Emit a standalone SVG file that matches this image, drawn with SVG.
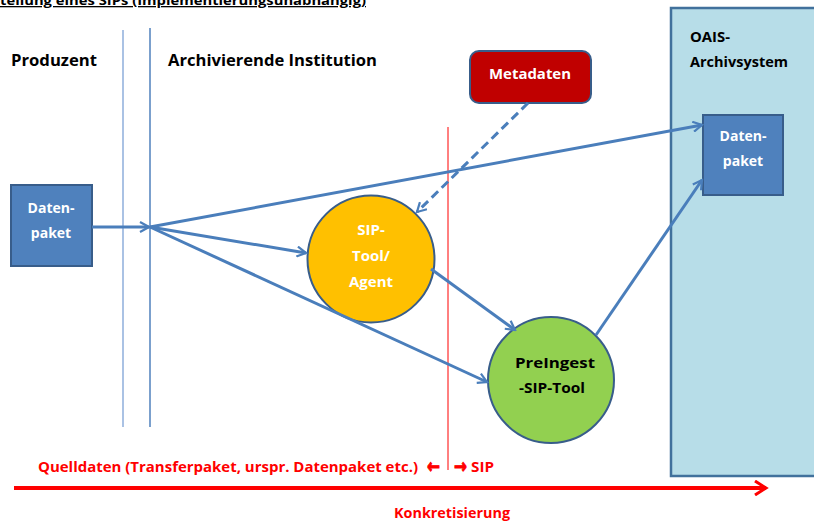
<svg xmlns="http://www.w3.org/2000/svg" width="814" height="522" viewBox="0 0 814 522">
<defs>
<style>
text{font-family:"Open Sans","Liberation Sans",sans-serif;font-weight:bold}
.lbl{font-size:16px;fill:#000}
.w{font-size:14px;fill:#fff;text-anchor:middle}
.b{font-size:14px;fill:#000;text-anchor:middle}
.red{font-size:14px;fill:#ff0000}
.arr{font-family:"DejaVu Sans",sans-serif;font-size:20px;fill:#ff0000;stroke:#ff0000;stroke-width:0.9}
.con{stroke:#4a7ebb;stroke-width:3;fill:none}
.box{fill:#4f81bd;stroke:#385d8a;stroke-width:2}
</style>
<marker id="ah" markerWidth="12" markerHeight="12" refX="10" refY="6" orient="auto" markerUnits="userSpaceOnUse" viewBox="0 0 12 12">
<path d="M1,1 L10,6 L1,11" fill="none" stroke="#4a7ebb" stroke-width="2.2"/>
</marker>
<marker id="ahr" markerWidth="16" markerHeight="16" refX="13" refY="8" orient="auto" markerUnits="userSpaceOnUse" viewBox="0 0 16 16">
<path d="M2,1 L13,8 L2,15" fill="none" stroke="#ff0000" stroke-width="3"/>
</marker>
</defs>
<rect width="814" height="522" fill="#fff"/>
<text x="0" y="5" style="font-size:13px" textLength="366" lengthAdjust="spacingAndGlyphs" text-decoration="underline">tellung eines SIPs (Implementierungsunabhängig)</text>
<text class="lbl" x="11" y="66" textLength="86" lengthAdjust="spacingAndGlyphs">Produzent</text>
<text class="lbl" x="168" y="66" textLength="209" lengthAdjust="spacingAndGlyphs">Archivierende Institution</text>
<line x1="123" y1="30" x2="123" y2="427" stroke="#8eaedb" stroke-width="1.5"/>
<line x1="150" y1="28" x2="150" y2="427" stroke="#4f81bd" stroke-width="1.5"/>
<g id="oais">
<rect x="671" y="8" width="150" height="468" fill="#b7dde8" stroke="#41719c" stroke-width="2.5"/>
<text class="lbl" x="690" y="42" style="font-size:15px" textLength="40" lengthAdjust="spacingAndGlyphs">OAIS-</text>
<text class="lbl" x="690" y="67" style="font-size:15px" textLength="98" lengthAdjust="spacingAndGlyphs">Archivsystem</text>
</g>
<g id="datenpaket2">
<rect class="box" x="703" y="115" width="80" height="80"/>
<text class="w" x="743" y="141">Daten-</text>
<text class="w" x="743" y="166">paket</text>
</g>
<g id="datenpaket1">
<rect class="box" x="11" y="185" width="81" height="81"/>
<text class="w" x="51" y="213">Daten-</text>
<text class="w" x="51" y="238">paket</text>
</g>
<line x1="448" y1="127" x2="448" y2="470" stroke="#ff0000" stroke-width="1"/>
<g id="metadaten">
<rect x="470" y="51" width="121" height="52" rx="9" fill="#c00000" stroke="#385d8a" stroke-width="2"/>
<text class="w" x="530" y="79" textLength="82" lengthAdjust="spacingAndGlyphs">Metadaten</text>
</g>
<g id="siptool">
<circle cx="371" cy="259" r="63.5" fill="#ffc000" stroke="#385d8a" stroke-width="2"/>
<text class="w" x="371" y="235" style="font-size:15px">SIP-</text>
<text class="w" x="371" y="261" style="font-size:15px">Tool/</text>
<text class="w" x="371" y="287" style="font-size:15px">Agent</text>
</g>
<g id="preingest">
<circle cx="551" cy="380" r="63" fill="#92d050" stroke="#385d8a" stroke-width="2"/>
<text class="b" x="555" y="368" style="font-size:15px" textLength="80" lengthAdjust="spacingAndGlyphs">PreIngest</text>
<text class="b" x="552" y="393" style="font-size:15px" textLength="66" lengthAdjust="spacingAndGlyphs">-SIP-Tool</text>
</g>
<g id="connectors">
<line class="con" x1="92" y1="227" x2="149" y2="227" marker-end="url(#ah)"/>
<line class="con" x1="150" y1="227" x2="702" y2="125" marker-end="url(#ah)"/>
<line class="con" x1="150" y1="227" x2="306" y2="253" marker-end="url(#ah)"/>
<line class="con" x1="150" y1="227" x2="487" y2="382" marker-end="url(#ah)"/>
<line class="con" x1="431" y1="269" x2="515" y2="330" marker-end="url(#ah)"/>
<line class="con" x1="596" y1="335" x2="702" y2="180" marker-end="url(#ah)"/>
<line class="con" x1="528" y1="103" x2="417" y2="212" stroke-dasharray="9,5" marker-end="url(#ah)"/>
<line x1="14" y1="488" x2="766" y2="488" stroke="#ff0000" stroke-width="4" marker-end="url(#ahr)"/>
</g>
<text class="red" x="38" y="472" textLength="380" lengthAdjust="spacingAndGlyphs">Quelldaten (Transferpaket, urspr. Datenpaket etc.)</text>
<text class="arr" x="427" y="473" textLength="13" lengthAdjust="spacingAndGlyphs">←</text>
<text class="arr" x="454" y="473" textLength="13" lengthAdjust="spacingAndGlyphs">→</text>
<text class="red" x="471" y="472" textLength="23" lengthAdjust="spacingAndGlyphs">SIP</text>
<text class="red" x="394" y="518" textLength="116" lengthAdjust="spacingAndGlyphs">Konkretisierung</text>
</svg>
